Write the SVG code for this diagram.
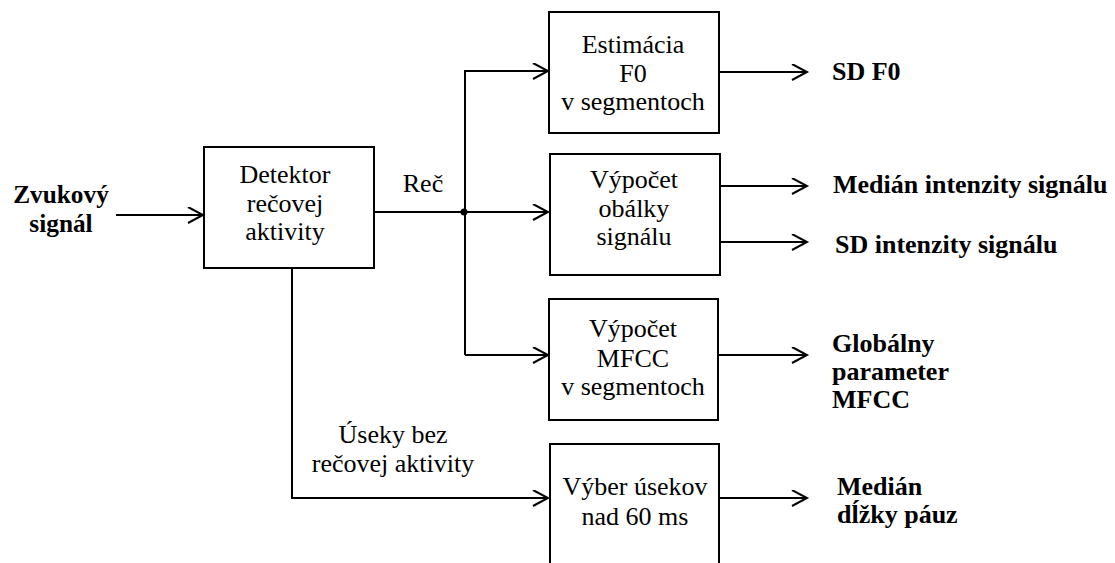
<svg xmlns="http://www.w3.org/2000/svg" width="1115" height="563" viewBox="0 0 1115 563">
<style>
.box{fill:#fff;stroke:#000;stroke-width:2}
.ln{fill:none;stroke:#000;stroke-width:2}
.t{font-family:'Liberation Serif','Times New Roman',serif;font-size:26px;fill:#000;text-anchor:middle}
.b{font-family:'Liberation Serif','Times New Roman',serif;font-size:26px;font-weight:bold;fill:#000}
.bi{font-family:'Liberation Serif','Times New Roman',serif;font-size:25.3px;font-weight:bold;fill:#000;text-anchor:middle}
</style>
<defs>
<marker id="arr" markerUnits="userSpaceOnUse" markerWidth="20" markerHeight="20" refX="16" refY="8" orient="auto">
<path d="M1,0 L16,8 L1,16" fill="none" stroke="#000" stroke-width="2"/>
</marker>
</defs>
<g id="connectors">
<line class="ln" x1="116" y1="215" x2="203" y2="215" marker-end="url(#arr)"/>
<line class="ln" x1="374" y1="212" x2="548" y2="212" marker-end="url(#arr)"/>
<polyline class="ln" points="465,355 465,71 548,71" marker-end="url(#arr)"/>
<line class="ln" x1="465" y1="355" x2="548" y2="355" marker-end="url(#arr)"/>
<circle cx="464" cy="212" r="3.5" fill="#000"/>
<polyline class="ln" points="292,268 292,498 548,498" marker-end="url(#arr)"/>
<line class="ln" x1="719" y1="72" x2="807" y2="72" marker-end="url(#arr)"/>
<line class="ln" x1="720" y1="186" x2="807" y2="186" marker-end="url(#arr)"/>
<line class="ln" x1="720" y1="242" x2="807" y2="242" marker-end="url(#arr)"/>
<line class="ln" x1="718" y1="355" x2="807" y2="355" marker-end="url(#arr)"/>
<line class="ln" x1="719" y1="498" x2="807" y2="498" marker-end="url(#arr)"/>
<text class="t" x="423" y="192">Reč</text>
<text class="t" x="393" y="443">Úseky bez</text>
<text class="t" x="393" y="472">rečovej aktivity</text>
</g>
<g id="input">
<text class="bi" x="61" y="203">Zvukový</text>
<text class="bi" x="61" y="232">signál</text>
</g>
<g id="detektor">
<rect class="box" x="204" y="147" width="170" height="121"/>
<text class="t" x="285" y="183">Detektor</text>
<text class="t" x="285" y="212">rečovej</text>
<text class="t" x="285" y="240">aktivity</text>
</g>
<g id="estimacia">
<rect class="box" x="549" y="12" width="170" height="121"/>
<text class="t" x="633" y="53">Estimácia</text>
<text class="t" x="633" y="82">F0</text>
<text class="t" x="633" y="110">v segmentoch</text>
</g>
<g id="obalky">
<rect class="box" x="550" y="154" width="170" height="121"/>
<text class="t" x="634" y="188">Výpočet</text>
<text class="t" x="634" y="217">obálky</text>
<text class="t" x="634" y="245">signálu</text>
</g>
<g id="mfcc">
<rect class="box" x="549" y="299" width="169" height="121"/>
<text class="t" x="633" y="337">Výpočet</text>
<text class="t" x="633" y="367">MFCC</text>
<text class="t" x="633" y="395">v segmentoch</text>
</g>
<g id="vyber">
<rect class="box" x="550" y="444" width="169" height="130"/>
<text class="t" x="635" y="495">Výber úsekov</text>
<text class="t" x="635" y="525">nad 60 ms</text>
</g>
<g id="outputs">
<text class="b" x="832" y="80">SD F0</text>
<text class="b" x="833" y="193">Medián intenzity signálu</text>
<text class="b" x="835" y="253">SD intenzity signálu</text>
<text class="b" x="832" y="352">Globálny</text>
<text class="b" x="832" y="380">parameter</text>
<text class="b" x="832" y="408">MFCC</text>
<text class="b" x="837" y="495">Medián</text>
<text class="b" x="837" y="523">dĺžky páuz</text>
</g>
</svg>
